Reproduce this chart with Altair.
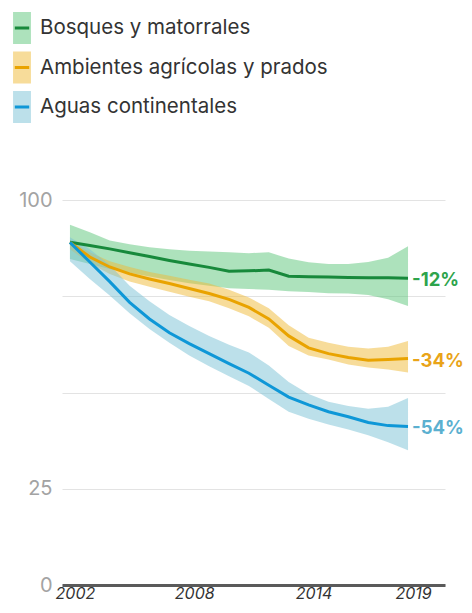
import altair as alt
import pandas as pd

years = list(range(2002, 2020))
series = ["Bosques y matorrales", "Ambientes agrícolas y prados", "Aguas continentales"]

bosques = [89.0, 88.2, 87.3, 86.3, 85.3, 84.3, 83.4, 82.5, 81.5, 81.6, 81.8, 80.2, 80.05, 80.0, 79.9, 79.8, 79.8, 79.7]
bosques_hi = [93.6, 91.6, 89.5, 88.5, 87.7, 87.2, 86.8, 86.6, 86.4, 86.2, 86.4, 84.8, 83.8, 83.4, 83.4, 83.9, 85.0, 88.0]
bosques_lo = [84.7, 83.4, 82.1, 81.1, 80.1, 79.2, 78.4, 77.7, 77.1, 76.9, 76.7, 76.3, 76.1, 75.8, 75.7, 75.3, 74.2, 72.5]

agricolas = [89.0, 85.2, 82.6, 80.8, 79.5, 78.3, 77.0, 75.7, 74.2, 72.1, 69.1, 64.7, 61.6, 60.1, 59.1, 58.4, 58.6, 58.8]
agricolas_hi = [89.5, 86.4, 84.1, 82.6, 81.3, 80.3, 79.3, 78.3, 76.7, 74.7, 71.9, 67.5, 64.2, 62.9, 61.9, 61.4, 61.9, 63.4]
agricolas_lo = [87.2, 83.6, 80.8, 78.8, 77.5, 76.2, 74.9, 73.7, 71.9, 69.8, 66.8, 62.1, 59.6, 58.6, 57.3, 56.5, 56.0, 55.2]

aguas = [89.0, 83.9, 78.8, 73.4, 69.1, 65.5, 62.7, 60.1, 57.5, 55.0, 51.9, 48.8, 46.8, 45.0, 43.7, 42.2, 41.4, 41.2]
aguas_hi = [90.3, 87.2, 83.1, 77.7, 73.7, 70.1, 67.3, 64.7, 62.4, 60.4, 57.0, 52.7, 49.6, 47.6, 46.5, 45.8, 46.3, 48.6]
aguas_lo = [84.1, 79.5, 75.2, 70.6, 66.5, 62.9, 59.6, 56.8, 54.2, 51.7, 48.3, 45.0, 43.2, 41.7, 40.4, 38.9, 37.1, 35.0]

end_labels = ["-12%", "-34%", "-54%"]
y_ticks = [0, 25, 50, 75, 100]
x_ticks = [2002, 2008, 2014, 2019]

line_colors = ["#17893b", "#e9a300", "#0e97d7"]
band_colors = ["#5cc67a", "#efb935", "#7ac2d6"]
label_colors = ["#2ea44c", "#e9a418", "#5bb0d0"]

FONT = "Inter"

rows = []
for name, v, hi, lo in [
    (series[0], bosques, bosques_hi, bosques_lo),
    (series[1], agricolas, agricolas_hi, agricolas_lo),
    (series[2], aguas, aguas_hi, aguas_lo),
]:
    for yr, a, b, c in zip(years, v, hi, lo):
        rows.append({"year": yr, "serie": name, "value": a, "hi": b, "lo": c})
df = pd.DataFrame(rows)

last = df[df["year"] == years[-1]].copy()
last["label"] = end_labels

W = 383
H = 385

x = alt.X(
    "year:Q",
    scale=alt.Scale(domain=[2001.6, 2020.86], nice=False, zero=False),
    axis=alt.Axis(
        values=x_ticks, format="d", title=None, grid=False, ticks=False,
        domain=True, domainColor="#5a5a5a", domainWidth=3,
        labelFont=FONT, labelFontSize=16, labelFontStyle="italic",
        labelColor="#333333", labelPadding=0, labelOffset=5, labelFlush=False,
    ),
)
y_scale = alt.Scale(domain=[0, 100], nice=False, zero=True)
y_axis = alt.Axis(
    values=y_ticks, title=None, ticks=False, domain=False,
    grid=True, gridColor="#e3e3e3", gridWidth=1.2,
    labelFont=FONT, labelFontSize=20, labelColor="#a3a3a3", labelPadding=10,
    labelExpr="datum.value == 50 || datum.value == 75 ? '' : datum.label",
)

fill_scale = alt.Scale(domain=series, range=band_colors)
stroke_scale = alt.Scale(domain=series, range=line_colors)

base = alt.Chart(df)

bands = base.mark_area(opacity=0.5).encode(
    x=x,
    y=alt.Y("lo:Q", scale=y_scale, axis=y_axis),
    y2="hi:Q",
    fill=alt.Fill("serie:N", scale=fill_scale, legend=None),
)

lines = base.mark_line(strokeWidth=3).encode(
    x=x,
    y=alt.Y("value:Q", scale=y_scale),
    stroke=alt.Stroke("serie:N", scale=stroke_scale, legend=None),
)

labels = alt.Chart(last).mark_text(
    align="left", baseline="middle", dx=4, dy=2, font=FONT, fontSize=18.5, fontWeight="bold"
).encode(
    x=x,
    y=alt.Y("value:Q", scale=y_scale),
    text="label:N",
    color=alt.Color("serie:N", scale=alt.Scale(domain=series, range=label_colors), legend=None),
)

plot = alt.layer(bands, lines, labels)

# legend drawn above the plot with its own point scale (pixel range above plot origin)
leg_df = pd.DataFrame({"serie": series})
leg_y = alt.Y("serie:N", scale=alt.Scale(domain=series, type="point", padding=0, range=[-172, -93]), axis=None)

swatch = alt.Chart(leg_df).mark_point(
    shape="M-0.56,-1H0.56V1H-0.56Z", size=1024, filled=True, opacity=0.5, strokeWidth=0
).encode(
    x=alt.value(-40),
    y=leg_y,
    fill=alt.Fill("serie:N", scale=fill_scale, legend=None),
)
swatch_line = alt.Chart(leg_df).mark_point(
    shape="M-0.45,0H0.45", size=1024, filled=False, opacity=1, strokeWidth=3
).encode(
    x=alt.value(-40),
    y=leg_y,
    stroke=alt.Stroke("serie:N", scale=stroke_scale, legend=None),
)
leg_text = alt.Chart(leg_df).mark_text(
    align="left", baseline="middle", font=FONT, fontSize=20.5, color="#333333"
).encode(
    x=alt.value(-22),
    y=leg_y,
    text="serie:N",
)
legend = alt.layer(swatch, swatch_line, leg_text)

chart = alt.layer(plot, legend).resolve_scale(y="independent").properties(
    width=W, height=H,
    autosize=alt.AutoSizeParams(type="none"),
    padding={"left": 54, "top": 192, "right": 19, "bottom": 16},
    background="white",
).configure_view(stroke="transparent")

chart.save("out.html", embed_options={"renderer": "svg", "actions": False})
